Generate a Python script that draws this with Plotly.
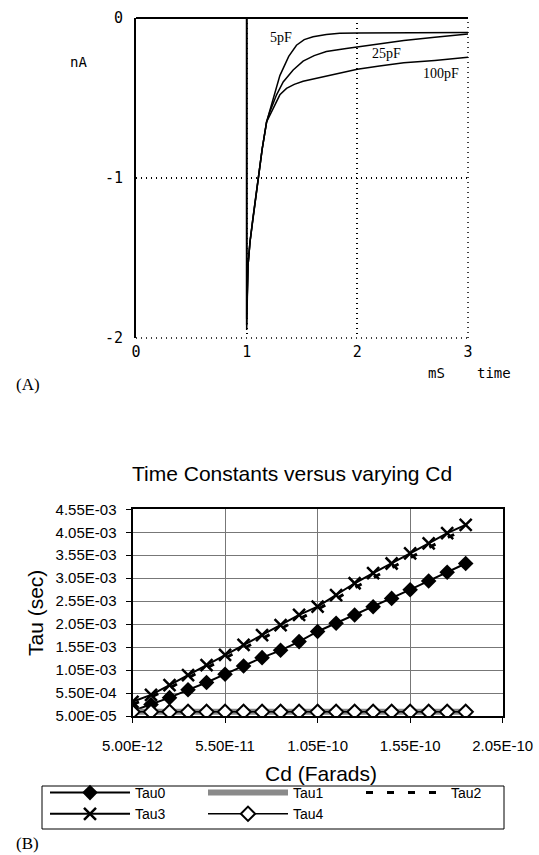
import plotly.graph_objects as go

W, H = 539, 855

# ---------------- Panel A data (current traces) ----------------
t_5pF = [0.0, 1.0, 1.0, 1.004, 1.002, 1.007, 1.005, 1.012, 1.03, 1.055, 1.08, 1.105, 1.14, 1.18,
         1.24, 1.30, 1.38, 1.45, 1.52, 1.60, 1.72, 1.84, 2.0, 2.3, 2.6, 3.0]
i_5pF = [0.0, 0.0, -1.92, -1.62, -1.82, -1.64, -1.74, -1.55, -1.40, -1.26, -1.12, -0.99, -0.82, -0.65,
         -0.50, -0.36, -0.24, -0.17, -0.135, -0.117, -0.103, -0.096, -0.093, -0.091, -0.09, -0.09]

t_25pF = [0.0, 1.0, 1.0, 1.003, 1.001, 1.006, 1.004, 1.012, 1.03, 1.055, 1.08, 1.105, 1.14, 1.18,
          1.21, 1.27, 1.33, 1.42, 1.51, 1.61, 1.72, 1.90, 2.0, 2.2, 2.42, 2.7, 3.0]
i_25pF = [0.0, 0.0, -1.88, -1.66, -1.86, -1.60, -1.78, -1.55, -1.40, -1.26, -1.12, -0.99, -0.82, -0.65,
          -0.585, -0.48, -0.40, -0.325, -0.27, -0.235, -0.21, -0.19, -0.18, -0.16, -0.14, -0.12, -0.10]

t_100pF = [0.0, 1.0, 1.0, 1.005, 1.003, 1.008, 1.006, 1.012, 1.03, 1.055, 1.08, 1.105, 1.14, 1.18,
           1.24, 1.30, 1.36, 1.43, 1.51, 1.61, 1.72, 1.90, 2.0, 2.2, 2.42, 2.7, 3.0]
i_100pF = [0.0, 0.0, -1.95, -1.70, -1.90, -1.68, -1.80, -1.55, -1.40, -1.26, -1.12, -0.99, -0.82, -0.65,
           -0.56, -0.48, -0.44, -0.415, -0.395, -0.38, -0.365, -0.335, -0.32, -0.30, -0.28, -0.265, -0.246]

a_xticks = [0, 1, 2, 3]
a_yticks = [-2, -1, 0]
a_curve_labels = ["5pF", "25pF", "100pF"]

# ---------------- Panel B data (time constants) ----------------
cd = [5e-12, 1.5e-11, 2.5e-11, 3.5e-11, 4.5e-11, 5.5e-11, 6.5e-11, 7.5e-11, 8.5e-11, 9.5e-11,
      1.05e-10, 1.15e-10, 1.25e-10, 1.35e-10, 1.45e-10, 1.55e-10, 1.65e-10, 1.75e-10, 1.85e-10]
tau0 = [1.6e-4, 3.0e-4, 4.5e-4, 6.2e-4, 7.8e-4, 9.6e-4, 1.14e-3, 1.32e-3, 1.48e-3, 1.67e-3,
        1.89e-3, 2.07e-3, 2.25e-3, 2.43e-3, 2.61e-3, 2.80e-3, 2.99e-3, 3.18e-3, 3.37e-3]
tau1 = [1.4e-4, 1.4e-4, 1.4e-4, 1.4e-4, 1.4e-4, 1.4e-4, 1.4e-4, 1.4e-4, 1.4e-4, 1.4e-4,
        1.4e-4, 1.4e-4, 1.4e-4, 1.4e-4, 1.4e-4, 1.4e-4, 1.4e-4, 1.4e-4, 1.4e-4]
tau2 = [3.0e-4, 4.6e-4, 6.6e-4, 8.8e-4, 1.10e-3, 1.31e-3, 1.52e-3, 1.74e-3, 1.95e-3, 2.16e-3,
        2.37e-3, 2.60e-3, 2.84e-3, 3.06e-3, 3.28e-3, 3.50e-3, 3.72e-3, 3.93e-3, 4.12e-3]
tau3 = [3.6e-4, 5.1e-4, 7.2e-4, 9.4e-4, 1.16e-3, 1.38e-3, 1.60e-3, 1.81e-3, 2.03e-3, 2.25e-3,
        2.43e-3, 2.68e-3, 2.94e-3, 3.16e-3, 3.37e-3, 3.59e-3, 3.81e-3, 4.03e-3, 4.21e-3]
tau4 = [1.4e-4, 1.4e-4, 1.4e-4, 1.4e-4, 1.4e-4, 1.4e-4, 1.4e-4, 1.4e-4, 1.4e-4, 1.4e-4,
        1.4e-4, 1.4e-4, 1.4e-4, 1.4e-4, 1.4e-4, 1.4e-4, 1.4e-4, 1.4e-4, 1.4e-4]

b_xtickvals = [5e-12, 5.5e-11, 1.05e-10, 1.55e-10, 2.05e-10]
b_xticktext = ["5.00E-12", "5.50E-11", "1.05E-10", "1.55E-10", "2.05E-10"]
b_ytickvals = [5e-5, 5.5e-4, 1.05e-3, 1.55e-3, 2.05e-3, 2.55e-3, 3.05e-3, 3.55e-3, 4.05e-3, 4.55e-3]
b_yticktext = ["5.00E-05", "5.50E-04", "1.05E-03", "1.55E-03", "2.05E-03",
               "2.55E-03", "3.05E-03", "3.55E-03", "4.05E-03", "4.55E-03"]


def px(x):
    return x / W


def py(y):
    return 1 - y / H


MONO = "DejaVu Sans Mono"
SERIF = "Liberation Serif"
SANS = "Liberation Sans"

fig = go.Figure()

# Panel A traces
for t, i in [(t_5pF, i_5pF), (t_25pF, i_25pF), (t_100pF, i_100pF)]:
    fig.add_trace(go.Scatter(x=t, y=i, mode="lines", line=dict(color="black", width=1.5),
                             xaxis="x", yaxis="y", showlegend=False, hoverinfo="skip"))

# Panel B traces
fig.add_trace(go.Scatter(x=cd, y=tau0, name="Tau0", mode="lines+markers",
                         line=dict(color="black", width=2),
                         marker=dict(symbol="diamond", size=12, color="black"),
                         xaxis="x2", yaxis="y2"))
fig.add_trace(go.Scatter(x=cd, y=tau1, name="Tau1", mode="lines",
                         line=dict(color="#8a8a8a", width=6),
                         xaxis="x2", yaxis="y2"))
fig.add_trace(go.Scatter(x=cd, y=tau2, name="Tau2", mode="lines",
                         line=dict(color="black", width=3, dash="7px,14px"),
                         xaxis="x2", yaxis="y2"))
fig.add_trace(go.Scatter(x=cd, y=tau3, name="Tau3", mode="lines+markers",
                         line=dict(color="black", width=2),
                         marker=dict(symbol="x-thin", size=12, color="black",
                                     line=dict(color="black", width=2.5)),
                         xaxis="x2", yaxis="y2"))
fig.add_trace(go.Scatter(x=cd, y=tau4, name="Tau4", mode="lines+markers",
                         line=dict(color="black", width=1.5),
                         marker=dict(symbol="diamond", size=11, color="white",
                                     line=dict(color="black", width=2)),
                         xaxis="x2", yaxis="y2"))

dot_grid = "1px,4px"

annotations = [
    dict(text="nA", x=px(78), y=py(62), font=dict(family=MONO, size=14, color="black")),
    dict(text="mS", x=px(436), y=py(373), font=dict(family=MONO, size=14, color="black")),
    dict(text="time", x=px(494), y=py(373), font=dict(family=MONO, size=14, color="black")),
    dict(text=a_curve_labels[0], x=px(281), y=py(38), font=dict(family=SERIF, size=14, color="black")),
    dict(text=a_curve_labels[1], x=px(386), y=py(53), font=dict(family=SERIF, size=14, color="black")),
    dict(text=a_curve_labels[2], x=px(441), y=py(74), font=dict(family=SERIF, size=14, color="black")),
    dict(text="(A)", x=px(28), y=py(384), font=dict(family=SERIF, size=17, color="black")),
    dict(text="(B)", x=px(27), y=py(843), font=dict(family=SERIF, size=17, color="black")),
    dict(text="Time Constants versus varying Cd", x=px(292), y=py(473),
         font=dict(family=SANS, size=21, color="black")),
    dict(text="Cd (Farads)", x=px(321), y=py(773), font=dict(family=SANS, size=21, color="black")),
    dict(text="Tau (sec)", x=px(35), y=py(613), textangle=-90,
         font=dict(family=SANS, size=21, color="black")),
]
for a in annotations:
    a.update(xref="paper", yref="paper", showarrow=False, xanchor="center", yanchor="middle")

shapes = [
    # solid top border of panel A (zero-current line)
    dict(type="line", xref="x domain", yref="y domain", x0=0, x1=1, y0=1, y1=1,
         line=dict(color="black", width=2)),
    # dotted bottom and right borders of panel A
    dict(type="line", xref="x domain", yref="y domain", x0=0, x1=1, y0=0, y1=0,
         line=dict(color="black", width=1.5, dash=dot_grid)),
    dict(type="line", xref="x domain", yref="y domain", x0=1, x1=1, y0=0, y1=1,
         line=dict(color="black", width=1.5, dash=dot_grid)),
    # legend box of panel B
    dict(type="rect", xref="paper", yref="paper", x0=px(42), x1=px(504), y0=py(829), y1=py(786),
         line=dict(color="black", width=1), fillcolor="rgba(0,0,0,0)"),
]

fig.update_layout(
    width=W, height=H,
    margin=dict(l=0, r=0, t=0, b=0, autoexpand=False),
    paper_bgcolor="white", plot_bgcolor="white",
    showlegend=True,
    xaxis=dict(domain=[px(136), px(468)], range=[0, 3], anchor="y",
               tickvals=a_xticks, ticktext=[str(v) for v in a_xticks],
               showgrid=True, gridcolor="black", gridwidth=1.5, griddash=dot_grid,
               zeroline=False, showline=False, ticks="", ticklabelstandoff=3,
               tickfont=dict(family=MONO, size=15, color="black"), fixedrange=True),
    yaxis=dict(domain=[py(338), py(18)], range=[-2, 0], anchor="x",
               tickvals=a_yticks, ticktext=[str(v) for v in a_yticks],
               showgrid=True, gridcolor="black", gridwidth=1.5, griddash=dot_grid,
               zeroline=False, showline=True, linecolor="black", linewidth=2, ticks="",
               ticklabelstandoff=8,
               tickfont=dict(family=MONO, size=15, color="black"), fixedrange=True),
    xaxis2=dict(domain=[px(132.5), px(502.7)], range=[5e-12, 2.05e-10], anchor="y2",
                tickvals=b_xtickvals, ticktext=b_xticktext,
                showgrid=True, gridcolor="#777777", gridwidth=1,
                zeroline=False, showline=True, mirror=True, linecolor="black", linewidth=2,
                ticks="outside", ticklen=5, tickcolor="black", ticklabelstandoff=10,
                tickfont=dict(family=SANS, size=15, color="black")),
    yaxis2=dict(domain=[py(716), py(509.3)], range=[5e-5, 4.55e-3], anchor="x2",
                tickvals=b_ytickvals, ticktext=b_yticktext,
                showgrid=True, gridcolor="#777777", gridwidth=1,
                zeroline=False, showline=True, mirror=True, linecolor="black", linewidth=2,
                ticks="outside", ticklen=5, tickcolor="black", ticklabelstandoff=6,
                tickfont=dict(family=SANS, size=15, color="black")),
    legend=dict(orientation="h", x=px(45), y=py(777), xanchor="left", yanchor="top",
                entrywidth=63, entrywidthmode="pixels", traceorder="normal",
                bgcolor="rgba(0,0,0,0)", borderwidth=0,
                font=dict(family=SANS, size=14, color="black"),
                itemwidth=80, tracegroupgap=0),
    annotations=annotations,
    shapes=shapes,
)

fig.write_html("out.html", config={"displayModeBar": False},
               post_script="document.body.style.margin='0';document.body.style.padding='0';")
